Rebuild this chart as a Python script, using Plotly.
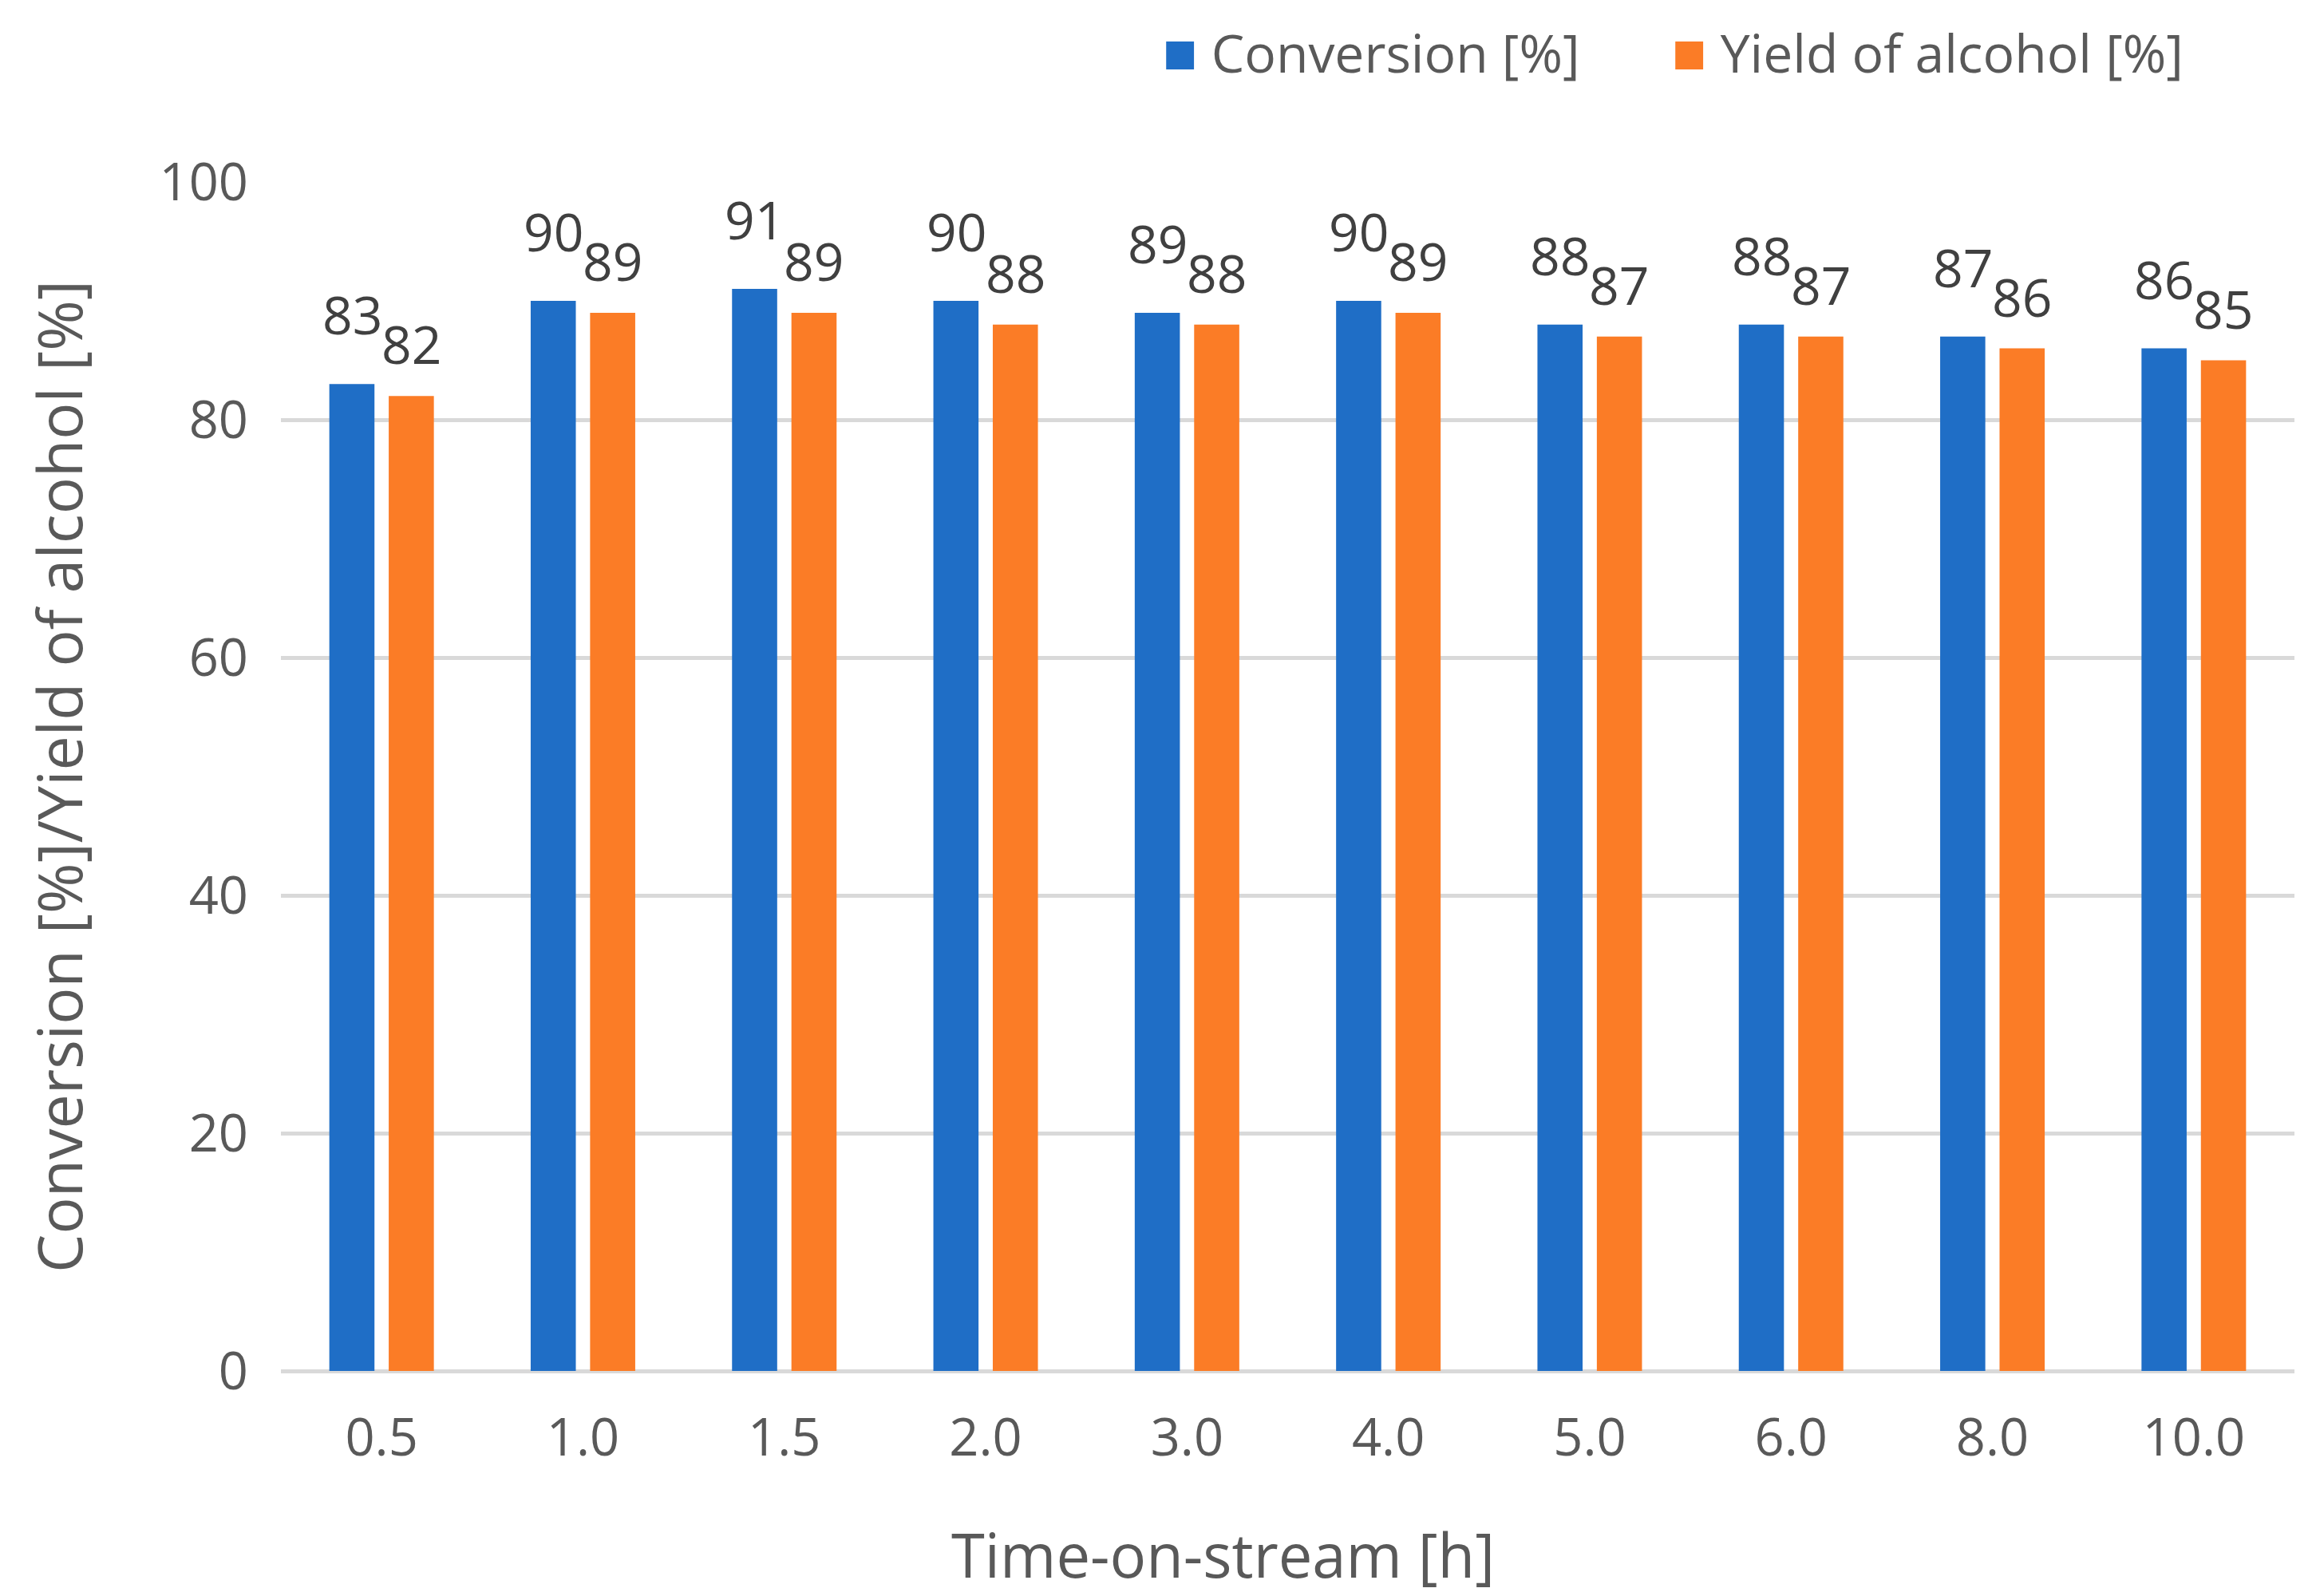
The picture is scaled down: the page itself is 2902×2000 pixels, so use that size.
import plotly.graph_objects as go

categories = ["0.5", "1.0", "1.5", "2.0", "3.0", "4.0", "5.0", "6.0", "8.0", "10.0"]
conversion = [83, 90, 91, 90, 89, 90, 88, 88, 87, 86]
yield_alcohol = [82, 89, 89, 88, 88, 89, 87, 87, 86, 85]
y_ticks = [0, 20, 40, 60, 80, 100]

BLUE = "#1F6EC6"
ORANGE = "#FB7C26"
FONT = "Open Sans"
TICK_COLOR = "#595959"
LABEL_COLOR = "#404040"

fig = go.Figure()
fig.add_trace(go.Bar(name="Conversion [%]", x=categories, y=conversion,
                     marker=dict(color=BLUE, line=dict(width=0))))
fig.add_trace(go.Bar(name="Yield of alcohol [%]", x=categories, y=yield_alcohol,
                     marker=dict(color=ORANGE, line=dict(width=0))))

annotations = []
# data labels (x given as category index on the category axis)
for i, v in enumerate(conversion):
    annotations.append(dict(x=i, y=v, xref="x", yref="y", text=str(v), showarrow=False,
                            xshift=-37, yshift=88, yanchor="middle",
                            font=dict(family=FONT, size=66, color=LABEL_COLOR)))
for i, v in enumerate(yield_alcohol):
    annotations.append(dict(x=i, y=v, xref="x", yref="y", text=str(v), showarrow=False,
                            xshift=37, yshift=66, yanchor="middle",
                            font=dict(family=FONT, size=66, color=LABEL_COLOR)))

# legend (drawn as text with coloured square glyphs)
annotations.append(dict(xref="paper", yref="paper", x=0.437, y=1.111, xanchor="left", yanchor="middle",
                        showarrow=False,
                        text=f"<span style='color:{BLUE};font-size:72px'>■</span> Conversion [%]",
                        font=dict(family=FONT, size=66, color=TICK_COLOR)))
annotations.append(dict(xref="paper", yref="paper", x=0.690, y=1.111, xanchor="left", yanchor="middle",
                        showarrow=False,
                        text=f"<span style='color:{ORANGE};font-size:72px'>■</span> Yield of alcohol [%]",
                        font=dict(family=FONT, size=66, color=TICK_COLOR)))

# x-axis title
annotations.append(dict(xref="paper", yref="paper", x=0.468, y=-0.154, xanchor="center", yanchor="middle",
                        showarrow=False, text="Time-on-stream [h]",
                        font=dict(family=FONT, size=76, color=TICK_COLOR)))

fig.update_layout(
    width=2902, height=2000,
    margin=dict(l=344, r=35, t=220, b=290),
    paper_bgcolor="white", plot_bgcolor="white",
    barmode="group", bargap=0.41, bargroupgap=0.24,
    showlegend=False,
    annotations=annotations,
    font=dict(family=FONT, color=TICK_COLOR),
)
fig.update_xaxes(
    type="category", categoryorder="array", categoryarray=categories,
    showgrid=False, showline=False, zeroline=False,
    tickfont=dict(family=FONT, size=65, color=TICK_COLOR),
    ticklabelstandoff=40,
)
fig.update_yaxes(
    range=[0, 100], tickvals=y_ticks,
    showgrid=True, gridcolor="#D9D9D9", gridwidth=5,
    zeroline=True, zerolinecolor="#D9D9D9", zerolinewidth=5,
    showline=False,
    tickfont=dict(family=FONT, size=65, color=TICK_COLOR),
    ticklabelstandoff=40,
    title=dict(text="Conversion [%]/Yield of alcohol [%]", font=dict(family=FONT, size=77, color=TICK_COLOR), standoff=70),
)

fig.write_html("out.html")
